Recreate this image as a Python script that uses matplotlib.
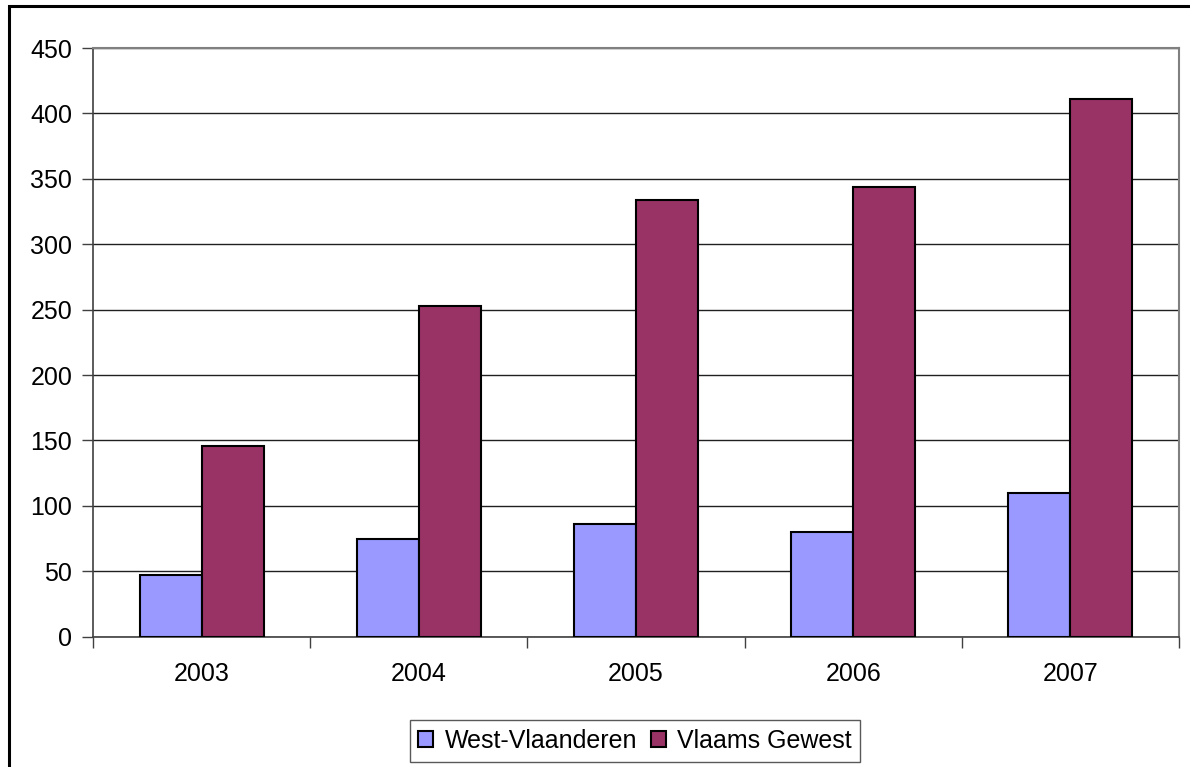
import numpy as np
import matplotlib.pyplot as plt
from matplotlib.patches import Rectangle

plt.rcParams['font.family'] = ['Liberation Sans', 'DejaVu Sans']

years = ['2003', '2004', '2005', '2006', '2007']
west_vl = [47, 75, 86, 80, 110]
vlaams = [146, 253, 334, 344, 411]
series_names = ['West-Vlaanderen', 'Vlaams Gewest']
y_ticks = [0, 50, 100, 150, 200, 250, 300, 350, 400, 450]

fig = plt.figure(figsize=(11.9, 7.67), dpi=100)
ax = fig.add_axes([93 / 1190, 1 - 636.7 / 767, (1179 - 93) / 1190, (636.7 - 48) / 767])

# outer chart border (only left and top show in the picture)
fig.patches.append(Rectangle((9 / 1190, -0.1), 1.2, 1.1 - 6 / 767, transform=fig.transFigure,
                             fill=False, edgecolor='black', linewidth=2.2, zorder=0))

x = np.arange(len(years))
w = 62 / 217.2
ax.bar(x - w / 2, west_vl, w, color='#9999FF', edgecolor='black', linewidth=1.5,
       label=series_names[0], zorder=3)
ax.bar(x + w / 2, vlaams, w, color='#993366', edgecolor='black', linewidth=1.5,
       label=series_names[1], zorder=3)

ax.set_xlim(-0.5, len(years) - 0.5)
ax.set_ylim(0, 450)
ax.set_yticks(y_ticks)
ax.set_yticklabels([str(v) for v in y_ticks])
ax.yaxis.grid(True, color='#202020', linewidth=1)
ax.set_axisbelow(True)

ax.set_xticks(x)
ax.set_xticklabels(years)
ax.set_xticks(np.arange(-0.5, len(years)), minor=True)
ax.tick_params(axis='x', which='major', length=0, pad=18, labelsize=18)
ax.tick_params(axis='x', which='minor', length=8, width=1, color='#404040')
ax.tick_params(axis='y', length=8, width=1, color='#404040', pad=7, labelsize=18)

for s in ['left', 'bottom']:
    ax.spines[s].set_color('#404040')
    ax.spines[s].set_linewidth(1.2)
for s in ['top', 'right']:
    ax.spines[s].set_color('#808080')
    ax.spines[s].set_linewidth(1.5)

leg = fig.legend(loc='center', bbox_to_anchor=(635 / 1190, 1 - 741 / 767), ncol=2,
                 fontsize=18, frameon=True, fancybox=False, handlelength=0.6,
                 handleheight=0.6, handletextpad=0.45, columnspacing=0.55,
                 borderpad=0.35, borderaxespad=0)
leg.get_frame().set_edgecolor('#303030')
leg.get_frame().set_linewidth(1)
for h in leg.legend_handles:
    h.set_linewidth(1.5)

fig.savefig('out.png', dpi=100)
